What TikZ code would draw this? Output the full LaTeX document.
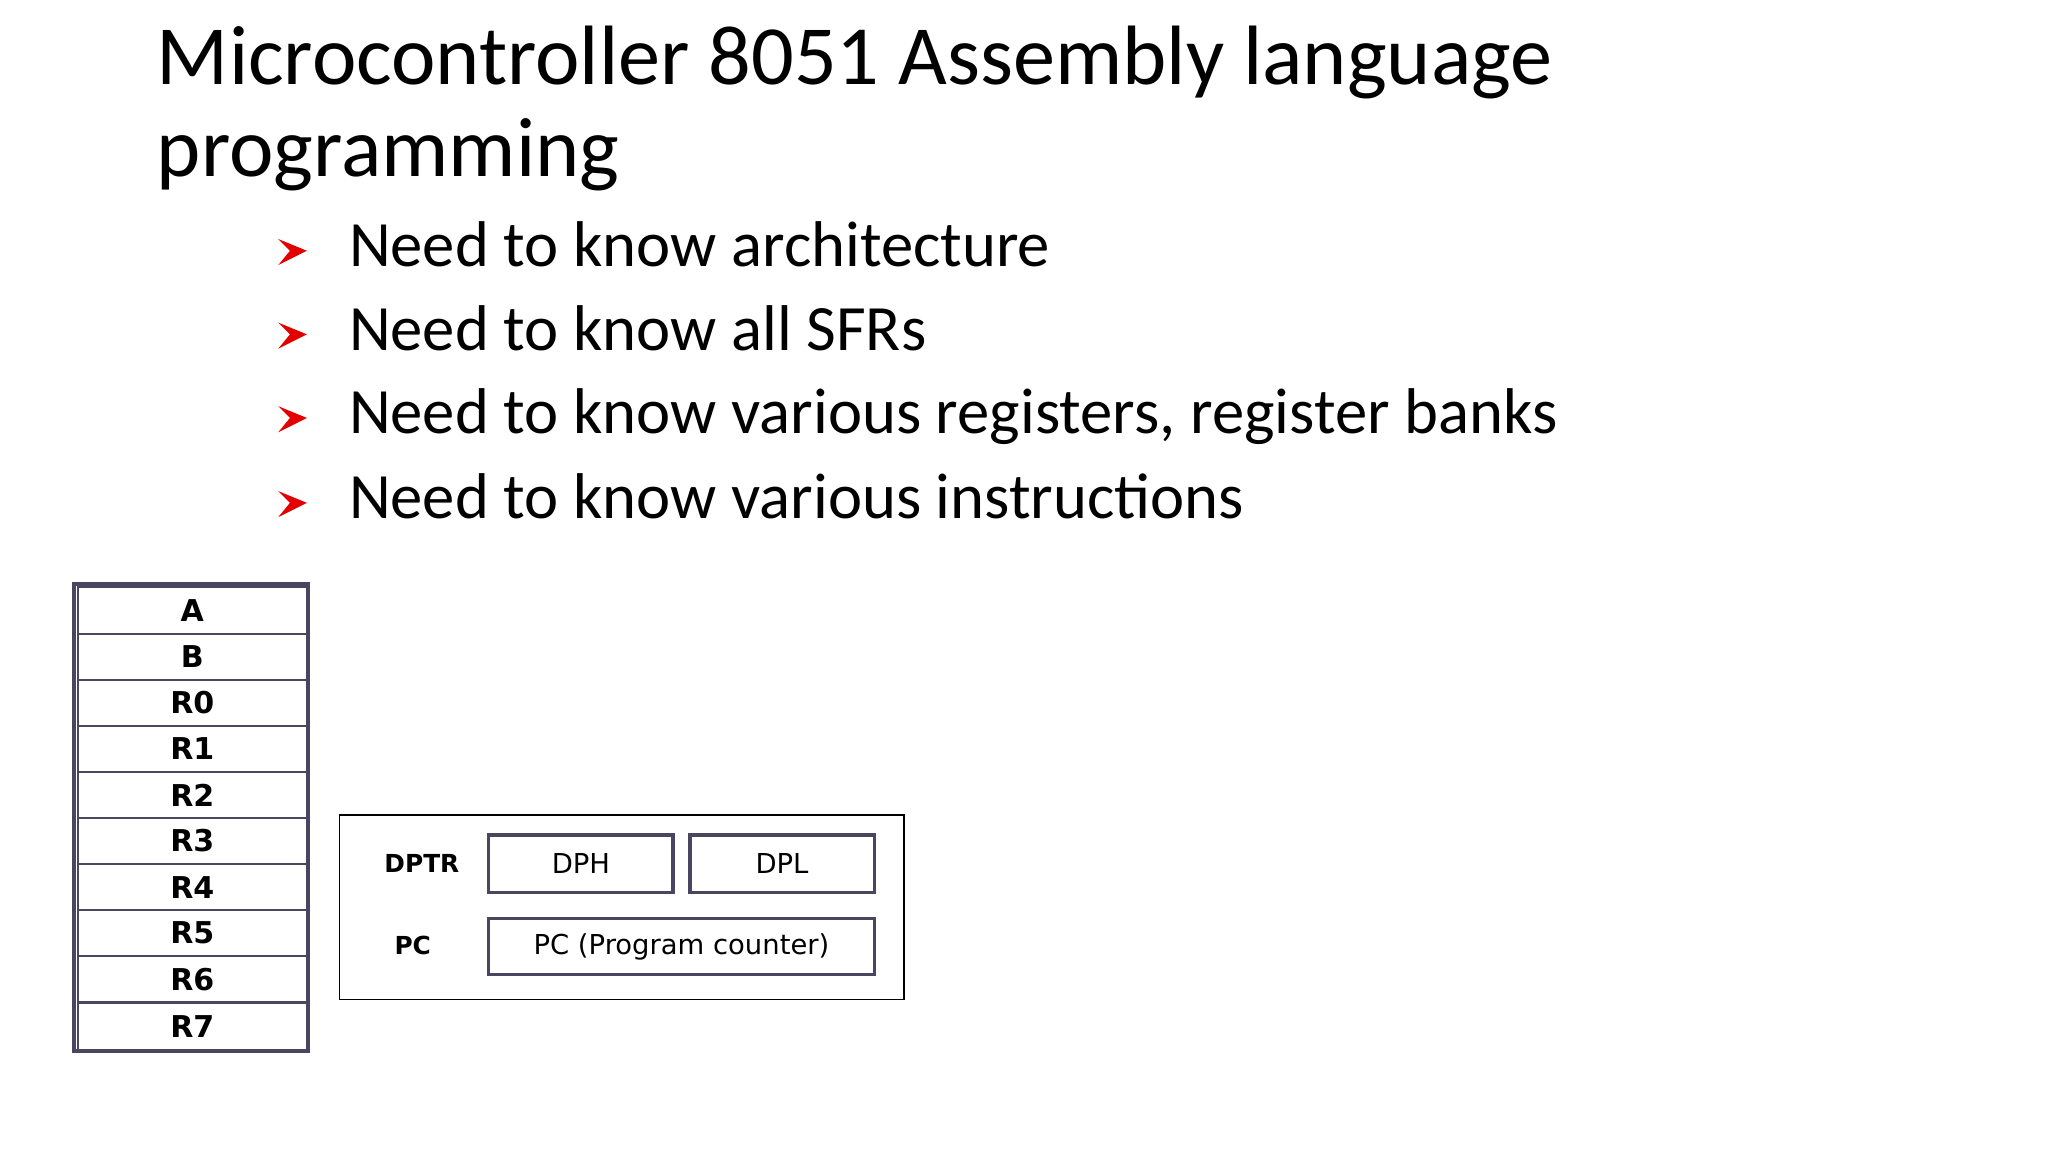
\documentclass[tikz,border=0pt]{standalone}
\usepackage{fontspec}
\setmainfont{Carlito}
\newfontfamily\regfont{DejaVu Sans}
\usetikzlibrary{arrows.meta}
\definecolor{frame}{HTML}{4A4560}
\definecolor{thin}{HTML}{6A6680}
\tikzset{
  reg/.style={draw=frame,line width=1.5pt,minimum width=175pt,minimum height=35.3pt,inner sep=0pt,font=\regfont\bfseries\fontsize{23}{23}\selectfont,anchor=north west},
  sub/.style={draw=frame,line width=2.5pt,minimum height=44pt,inner sep=0pt,font=\regfont\fontsize{21}{21}\selectfont,anchor=north west},
  lab/.style={font=\regfont\bfseries\fontsize{19}{19}\selectfont},
  bul/.style={anchor=base west,font=\fontsize{49.5}{49.5}\selectfont},
}
\begin{document}
\begin{tikzpicture}[x=1pt,y=-1pt]
\useasboundingbox[fill=white] (0,0) rectangle (1568,882);
\node[anchor=base west,inner sep=0pt,font=\fontsize{64.5}{64.5}\selectfont] (t1) at (120,65) {Microcontroller 8051 Assembly language};
\node[anchor=base west,inner sep=0pt,font=\fontsize{64.5}{64.5}\selectfont] (t2) at (120,135) {programming};
\foreach \y/\t [count=\i] in {204/Need to know architecture,268/Need to know all SFRs,332/{Need to know various registers, register banks},397/Need to know various instructions}{
  \node[bul,inner sep=0pt] (b\i) at (267,\y) {\t};
  \fill[red!90!black] (213,\y-21) -- (235,\y-12) -- (213,\y-1) -- (222,\y-12) -- cycle;
}
% register column
\draw[frame,line width=3pt] (57,447) rectangle (236,805);
\foreach \n [count=\i from 0] in {A,B,R0,R1,R2,R3,R4,R5,R6}{
  \node[reg] (r\i) at (59,449+\i*35.3) {\n};
}
\node[reg,minimum height=37pt] (r9) at (59,767) {R7};
% DPTR box
\draw[thin,line width=1pt] (260,624) rectangle (692,765);
\node[sub,minimum width=141pt] (dph) at (373,638) {DPH};
\node[sub,minimum width=141pt] (dpl) at (527,638) {DPL};
\node[sub,minimum width=295pt,minimum height=43pt] (pc) at (373,702) {PC (Program counter)};
\node[lab] (ldptr) at (323,661) {DPTR};
\node[lab] (lpc) at (316,724) {PC};
\end{tikzpicture}
\end{document}
